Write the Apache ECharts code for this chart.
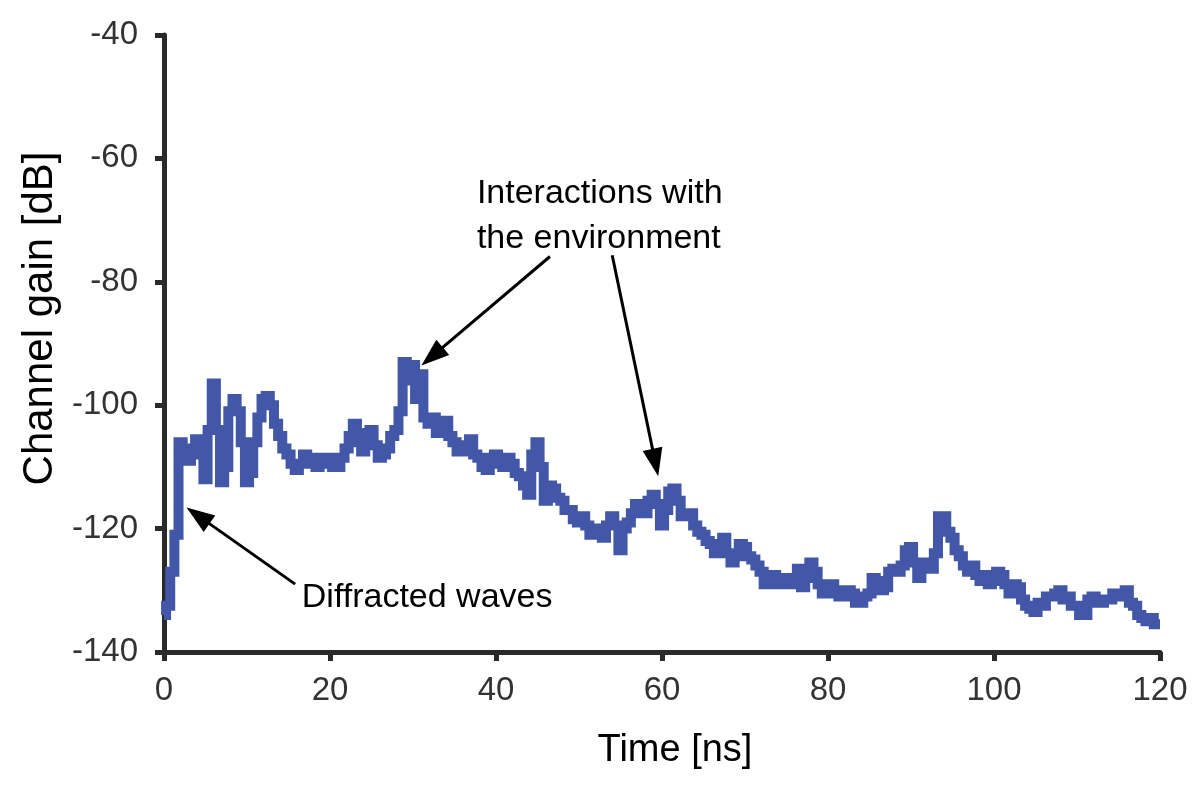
<!DOCTYPE html>
<html>
<head>
<meta charset="utf-8">
<script src="https://cdn.jsdelivr.net/npm/echarts@6/dist/echarts.min.js"></script>
<style>html,body{margin:0;padding:0;background:#fff;}#chart{width:1200px;height:797px;}</style>
</head>
<body>
<div id="chart"></div>
<script>
// Channel gain [dB], one value every 0.5 ns from 0 to 120 ns
const gainValues = [
  -134, -132.5, -127, -121, -106, -108, -109, -107, -105.5, -108,
  -112, -104, -96.5, -104, -112.5, -110, -101, -99, -101, -106,
  -112.5, -111, -106, -102, -99, -98.5, -100, -103, -105, -107,
  -108, -109.5, -110.5, -109.5, -108, -109.5, -108.5, -110, -108.5, -109.5,
  -108.5, -110, -110, -108.5, -107, -105, -103, -106, -107.5, -104.5,
  -104, -106.5, -108.5, -108, -107, -105, -104, -101, -93, -96,
  -93.5, -99, -95, -102, -103, -102, -104.5, -103, -102.5, -105,
  -106, -107.5, -106.5, -107.5, -105.5, -108, -108.5, -110, -110.5, -108.5,
  -108, -109.5, -110, -108.5, -109.5, -111, -111.5, -113, -114.5, -108,
  -106, -110, -115.5, -113, -113.5, -115, -115.5, -117, -117, -118.5,
  -119, -118, -119.5, -121, -121, -120, -121.5, -119.5, -118, -119.5,
  -123.5, -120, -119, -117.5, -116, -117, -117.5, -115.5, -114.5, -116,
  -119.5, -117, -114, -113.5, -115.5, -118, -118, -117.5, -119.5, -120.5,
  -121, -122, -122.5, -124, -123, -121.5, -124, -125.5, -124.5, -122.5,
  -123, -124.5, -125, -126, -127, -129, -128.5, -127.5, -129, -128,
  -128, -129, -128, -126.5, -129.5, -128, -125.5, -127, -129, -130.5,
  -130.5, -129, -130, -131, -131, -130, -130.5, -132, -132, -131,
  -130.5, -128, -128.5, -130, -129.5, -127, -126.5, -127, -126, -123.5,
  -123, -125.5, -128, -126, -125.5, -126.5, -124, -118, -118, -120.5,
  -121.5, -123.5, -124.5, -126, -127, -126, -127.5, -128.5, -127.5, -129,
  -128.5, -127, -127.5, -129, -130.5, -129, -129.5, -131.5, -132.5, -133,
  -133.5, -132, -132.5, -131, -131, -130.5, -130, -131.5, -131, -132.5,
  -132.5, -134, -134, -131.5, -131, -132, -132, -131.5, -131.5, -130.5,
  -130.5, -131, -130, -132, -132.5, -134, -134.5, -135, -134.5, -135.5,
  -135.5
];
const timeStepNs = 0.5;
const xTicks = [0, 20, 40, 60, 80, 100, 120];
const yTicks = [-140, -120, -100, -80, -60, -40];

// annotations (data coordinates; text anchored at its left edge)
const annotationTexts = [
  { text: 'Interactions with\nthe environment', at: [37.7, -69.3] },
  { text: 'Diffracted waves', at: [16.6, -131.2] }
];
const arrows = [
  { from: [46.5, -75.9], to: [32.3, -92.1] },
  { from: [54.0, -75.7], to: [59.2, -109.3] },
  { from: [15.8, -129.0], to: [4.1, -117.9] }
];

const seriesData = gainValues.map((v, i) => [i * timeStepNs, v]);

const chart = echarts.init(document.getElementById('chart'), null, { renderer: 'canvas' });
const axisColor = '#2a2a2a';
const font = 'Liberation Sans';
chart.setOption({
  animation: false,
  backgroundColor: '#fff',
  grid: { left: 164, right: 40, top: 35, bottom: 145 },
  xAxis: {
    type: 'value', min: xTicks[0], max: xTicks[xTicks.length - 1], interval: 20,
    name: 'Time [ns]', nameLocation: 'middle', nameGap: 80,
    nameTextStyle: { fontSize: 38, color: '#000', fontFamily: font, padding: [0, 0, 0, 26] },
    axisLine: { show: true, lineStyle: { color: axisColor, width: 5 } },
    axisTick: { show: true, length: 9, lineStyle: { color: axisColor, width: 5 } },
    axisLabel: { margin: 22, fontSize: 33, color: '#333', fontFamily: font },
    splitLine: { show: false }
  },
  yAxis: {
    type: 'value', min: yTicks[0], max: yTicks[yTicks.length - 1], interval: 20,
    name: 'Channel gain [dB]', nameLocation: 'middle', nameGap: 98,
    nameTextStyle: { fontSize: 42, color: '#000', fontFamily: font, padding: [0, 0, 0, 50] },
    axisLine: { show: true, lineStyle: { color: axisColor, width: 5 } },
    axisTick: { show: true, length: 9, lineStyle: { color: axisColor, width: 5 } },
    axisLabel: { margin: 26, fontSize: 33, color: '#333', fontFamily: font },
    splitLine: { show: false }
  },
  series: [{
    type: 'line',
    step: 'middle',
    data: seriesData,
    showSymbol: false,
    symbol: 'none',
    lineStyle: { color: '#4257a8', width: 10, join: 'miter' },
    silent: true,
    markLine: {
      silent: true,
      symbol: ['none', 'triangle'],
      symbolSize: [20, 28],
      label: { show: false },
      lineStyle: { color: '#000', width: 3, type: 'solid' },
      emphasis: { disabled: true },
      data: arrows.map(a => [{ coord: a.from }, { coord: a.to }])
    },
    markPoint: {
      silent: true,
      symbol: 'circle',
      symbolSize: 0,
      data: annotationTexts.map(t => ({
        coord: t.at,
        label: {
          show: true, position: 'inside', formatter: t.text,
          fontSize: 34, lineHeight: 45, color: '#000', align: 'left',
          fontFamily: font
        }
      }))
    }
  }]
});
</script>
</body>
</html>
